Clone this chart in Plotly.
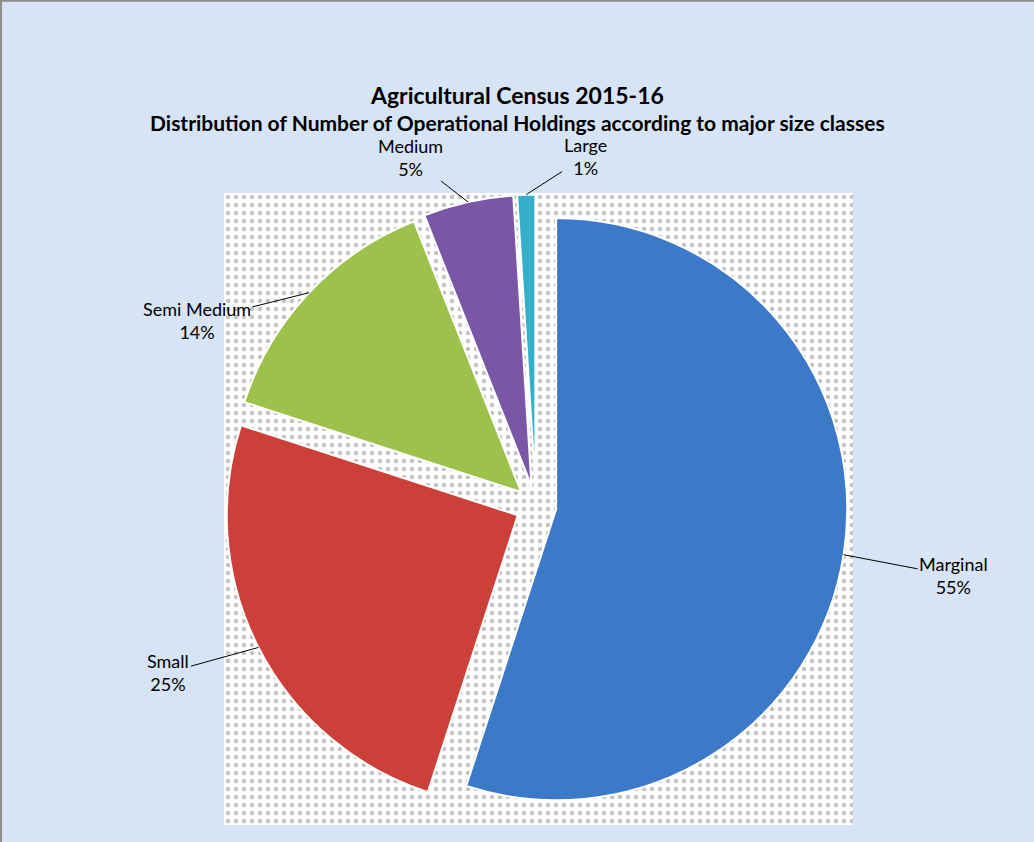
import math
import plotly.graph_objects as go

# Agricultural Census 2015-16: share of operational holdings by size class
categories = ["Marginal", "Small", "Semi Medium", "Medium", "Large"]
shares = [55, 25, 14, 5, 1]
colors = ["#3D79C9", "#CD403A", "#9DC24B", "#7A56A7", "#33AFC9"]

# label text offsets (pixels) from each slice's outer edge point
label_dx = [110, -90, -112, -58, 59]
label_dy = [21, 25, 28, -45, -38]

W, H = 1034, 842
PULL = 0.07
pie_x = [224.5 / W, 847.5 / W]
pie_y = [1 - 817.5 / H, 1 - 194.5 / H]

fig = go.Figure()

# dotted plot-area background
fig.add_trace(go.Scatter(
    x=[0, 1, 1, 0, 0], y=[0, 0, 1, 1, 0],
    mode="lines", fill="toself", line=dict(width=0),
    fillcolor="white",
    fillpattern=dict(shape=".", bgcolor="white", fgcolor="#858585",
                     size=8, solidity=0.25),
    hoverinfo="skip", showlegend=False,
))

fig.add_trace(go.Pie(
    labels=categories, values=shares,
    sort=False, direction="clockwise", rotation=0,
    pull=[PULL] * len(shares),
    marker=dict(colors=colors, line=dict(color="white", width=2)),
    textinfo="none", hoverinfo="label+percent",
    domain=dict(x=pie_x, y=pie_y),
    showlegend=False,
))

# geometry of the pie in pixels, following plotly's own pie sizing
box_w = W * (pie_x[1] - pie_x[0])
box_h = H * (pie_y[1] - pie_y[0])
r = min(box_w, box_h) / 2 / (1 + PULL)
cx = W * (pie_x[0] + pie_x[1]) / 2
cy = H * (1 - pie_y[0]) - box_h / 2

total = sum(shares)
cum = 0
annotations = []
for name, v, dx, dy in zip(categories, shares, label_dx, label_dy):
    mid = (cum + v / 2) / total * 2 * math.pi
    cum += v
    ux, uy = math.sin(mid), -math.cos(mid)
    px = cx + ux * r * (1 + PULL)
    py = cy + uy * r * (1 + PULL)
    pct = round(v / total * 100)
    annotations.append(dict(
        x=px / W, y=1 - py / H, xref="paper", yref="paper",
        text=f"{name}<br>{pct}%", showarrow=True,
        ax=dx, ay=dy, axref="pixel", ayref="pixel",
        arrowhead=0, arrowwidth=1, arrowcolor="black", standoff=0,
        font=dict(family="Lato, sans-serif", size=18, color="black"),
        align="center",
    ))

annotations.append(dict(
    x=0.5, y=1 - 95 / H, xref="paper", yref="paper", showarrow=False,
    text="<b>Agricultural Census 2015-16</b>", yanchor="middle",
    font=dict(family="Lato, sans-serif", size=23, color="black"),
))
annotations.append(dict(
    x=0.5, y=1 - 123 / H, xref="paper", yref="paper", showarrow=False,
    text="<b>Distribution of Number of Operational Holdings according to major size classes</b>",
    yanchor="middle",
    font=dict(family="Lato, sans-serif", size=21, color="black"),
))

fig.update_layout(
    width=W, height=H,
    margin=dict(l=0, r=0, t=0, b=0),
    paper_bgcolor="#D6E4F5",
    plot_bgcolor="rgba(0,0,0,0)",
    xaxis=dict(domain=[224 / W, 853 / W], range=[0, 1], visible=False, fixedrange=True),
    yaxis=dict(domain=[1 - 825 / H, 1 - 193 / H], range=[0, 1], visible=False, fixedrange=True),
    annotations=annotations,
    shapes=[
        dict(type="line", xref="paper", yref="paper", x0=0.001, x1=0.001, y0=0, y1=1,
             line=dict(color="#8c8c8c", width=2)),
        dict(type="line", xref="paper", yref="paper", x0=0, x1=1, y0=0.999, y1=0.999,
             line=dict(color="#8c8c8c", width=2)),
    ],
)

fig.write_html("out.html")
